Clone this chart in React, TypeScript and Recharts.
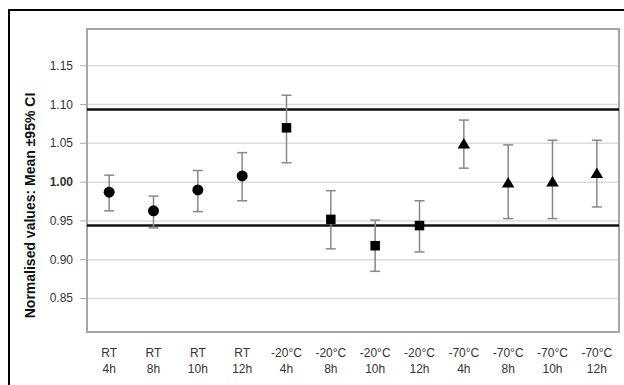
import React from "react";
import {
  ComposedChart,
  Line,
  XAxis,
  YAxis,
  CartesianGrid,
  ReferenceLine,
  ReferenceArea,
  ErrorBar,
} from "recharts";

// ---- data ----
const conditions = ["RT", "RT", "RT", "RT", "-20°C", "-20°C", "-20°C", "-20°C", "-70°C", "-70°C", "-70°C", "-70°C"];
const times = ["4h", "8h", "10h", "12h", "4h", "8h", "10h", "12h", "4h", "8h", "10h", "12h"];

const rtMean = [0.987, 0.963, 0.99, 1.008];
const rtLow = [0.963, 0.941, 0.962, 0.976];
const rtHigh = [1.009, 0.982, 1.015, 1.038];

const m20Mean = [1.07, 0.952, 0.918, 0.944];
const m20Low = [1.025, 0.914, 0.885, 0.91];
const m20High = [1.112, 0.989, 0.951, 0.976];

const m70Mean = [1.05, 1.0, 1.001, 1.012];
const m70Low = [1.018, 0.953, 0.953, 0.968];
const m70High = [1.08, 1.048, 1.054, 1.054];

const upperLimit = 1.0935;
const lowerLimit = 0.944;

const yTicks = [0.85, 0.9, 0.95, 1.0, 1.05, 1.1, 1.15];
const yDomain = [0.8068, 1.1974];
const yLabel = "Normalised values: Mean ±95% CI";

// ---- build table ----
type Row = Record<string, any>;
const data: Row[] = conditions.map((c, i) => {
  const row: Row = { key: `${c} ${times[i]}`, cond: c, time: times[i] };
  const g = Math.floor(i / 4);
  const j = i % 4;
  if (g === 0) {
    row.rt = rtMean[j];
    row.rtErr = [rtMean[j] - rtLow[j], rtHigh[j] - rtMean[j]];
  } else if (g === 1) {
    row.m20 = m20Mean[j];
    row.m20Err = [m20Mean[j] - m20Low[j], m20High[j] - m20Mean[j]];
  } else {
    row.m70 = m70Mean[j];
    row.m70Err = [m70Mean[j] - m70Low[j], m70High[j] - m70Mean[j]];
  }
  return row;
});

const FONT = "'Liberation Sans', Arial, sans-serif";

const CircleDot = (props: any) => {
  const { cx, cy, value } = props;
  if (value == null || cy == null || isNaN(cy)) return <g key={props.index} />;
  return <circle key={props.index} cx={cx} cy={cy} r={5.5} fill="#000" />;
};
const SquareDot = (props: any) => {
  const { cx, cy, value } = props;
  if (value == null || cy == null || isNaN(cy)) return <g key={props.index} />;
  const s = 9.5;
  return <rect key={props.index} x={cx - s / 2} y={cy - s / 2} width={s} height={s} fill="#000" />;
};
const TriangleDot = (props: any) => {
  const { cx, cy, value } = props;
  if (value == null || cy == null || isNaN(cy)) return <g key={props.index} />;
  const w = 12.5;
  const h = 10.5;
  return (
    <polygon
      key={props.index}
      points={`${cx},${cy - h / 2} ${cx + w / 2},${cy + h / 2} ${cx - w / 2},${cy + h / 2}`}
      fill="#000"
    />
  );
};

const YTick = (props: any) => {
  const { x, y, payload } = props;
  const bold = Math.abs(payload.value - 1) < 1e-9;
  return (
    <text
      x={x}
      y={y}
      dy={4}
      textAnchor="end"
      fontSize={12}
      fontFamily={FONT}
      fontWeight={bold ? 700 : 400}
      fill="#333"
    >
      {Number(payload.value).toFixed(2)}
    </text>
  );
};

const XTick = (props: any) => {
  const { x, y, index } = props;
  return (
    <g>
      <text x={x} y={y + 17} textAnchor="middle" fontSize={12} fontFamily={FONT} fill="#333">
        {conditions[index]}
      </text>
      <text x={x} y={y + 32.5} textAnchor="middle" fontSize={12} fontFamily={FONT} fill="#333">
        {times[index]}
      </text>
    </g>
  );
};

const YLabel = (props: any) => {
  const vb = props.viewBox || {};
  const cx = 35;
  const cy = (vb.y ?? 29) + (vb.height ?? 303) / 2 + 25;
  return (
    <text
      x={cx}
      y={cy}
      transform={`rotate(-90, ${cx}, ${cy})`}
      textAnchor="middle"
      fontSize={14}
      fontWeight={700}
      fontFamily={FONT}
      fill="#111"
    >
      {yLabel}
    </text>
  );
};

export default function App() {
  return (
    <div
      style={{
        position: "fixed",
        left: 0,
        top: 0,
        width: 624,
        height: 385,
        overflow: "hidden",
        background: "#fff",
      }}
    >
      <div
        style={{
          position: "absolute",
          left: 8,
          top: 9,
          width: 800,
          height: 600,
          border: "2px solid #000",
        }}
      />
      <div style={{ position: "absolute", left: 0, top: 0 }}>
        <ComposedChart
          width={624}
          height={385}
          data={data}
          margin={{ top: 29, right: 5, bottom: 23, left: 0 }}
        >
          <CartesianGrid vertical={false} stroke="#dcdcdc" strokeWidth={1.5} />
          <XAxis
            dataKey="key"
            type="category"
            scale="band"
            axisLine={false}
            tickLine={false}
            height={30}
            interval={0}
            tick={<XTick />}
          />
          <YAxis
            type="number"
            domain={yDomain}
            ticks={yTicks}
            allowDataOverflow
            width={87}
            axisLine={false}
            tickLine={{ stroke: "#aaa", strokeWidth: 1 }}
            tickSize={7}
            tickMargin={7}
            tick={<YTick />}
            label={<YLabel />}
          />
          <ReferenceArea
            y1={yDomain[0]}
            y2={yDomain[1]}
            fill="none"
            stroke="#a6a6a6"
            strokeWidth={2}
            ifOverflow="visible"
          />
          <ReferenceLine y={upperLimit} stroke="#111" strokeWidth={2.5} />
          <ReferenceLine y={lowerLimit} stroke="#111" strokeWidth={2.5} />
          <Line
            dataKey="rt"
            stroke="none"
            strokeWidth={0}
            dot={CircleDot}
            activeDot={false}
            isAnimationActive={false}
          >
            <ErrorBar dataKey="rtErr" width={5} stroke="#888" strokeWidth={1.5} direction="y" />
          </Line>
          <Line
            dataKey="m20"
            stroke="none"
            strokeWidth={0}
            dot={SquareDot}
            activeDot={false}
            isAnimationActive={false}
          >
            <ErrorBar dataKey="m20Err" width={5} stroke="#888" strokeWidth={1.5} direction="y" />
          </Line>
          <Line
            dataKey="m70"
            stroke="none"
            strokeWidth={0}
            dot={TriangleDot}
            activeDot={false}
            isAnimationActive={false}
          >
            <ErrorBar dataKey="m70Err" width={5} stroke="#888" strokeWidth={1.5} direction="y" />
          </Line>
        </ComposedChart>
      </div>
    </div>
  );
}
